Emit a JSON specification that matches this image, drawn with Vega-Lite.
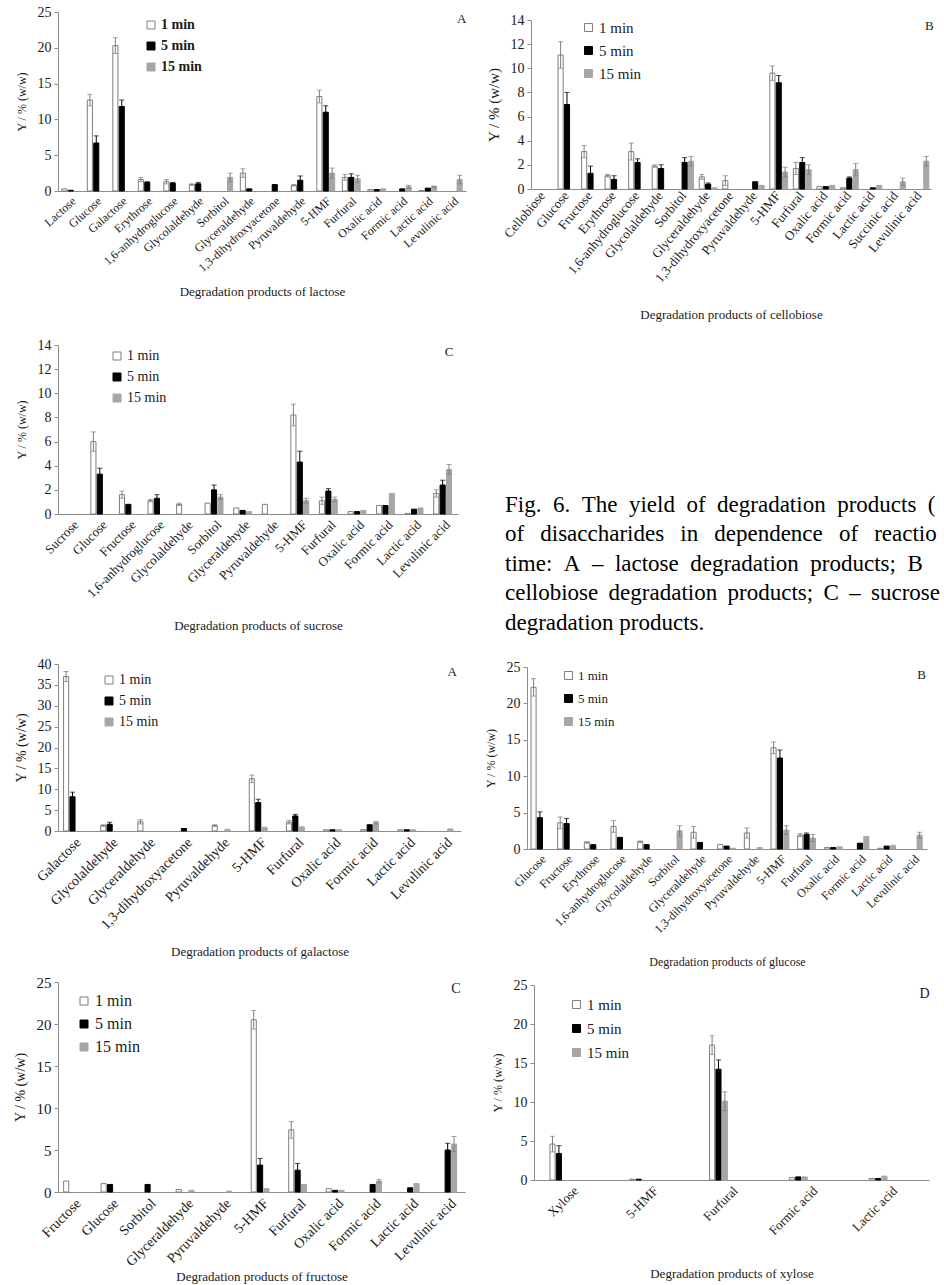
{
  "$schema": "https://vega.github.io/schema/vega-lite/v6.json",
  "padding": {"left": 13, "top": 5, "right": 0, "bottom": 0},
  "background": "white",
  "config": {
    "font": "Liberation Serif",
    "view": {"stroke": null},
    "axis": {
      "labelFont": "Liberation Serif", "titleFont": "Liberation Serif",
      "labelColor": "#1a1a1a", "titleColor": "#1a1a1a",
      "domainColor": "#8c8c8c", "tickColor": "#8c8c8c",
      "grid": false, "titleFontWeight": "normal", "labelFontWeight": "normal"
    },
    "axisX": {"ticks": false, "labelAngle": -45, "labelPadding": 4, "labelFontSize": 12, "titleFontSize": 13, "titlePadding": 10, "labelOverlap": false, "titleFontWeight": "normal"},
    "axisY": {"tickSize": 4, "labelPadding": 3, "labelFontSize": 14, "titleFontSize": 12, "titlePadding": 9, "labelOverlap": false, "titleFontWeight": "normal"},
    "legend": {"labelFont": "Liberation Serif", "labelColor": "#1a1a1a", "symbolType": "square", "symbolSize": 64, "symbolStrokeWidth": 1, "padding": 0, "labelOffset": 3},
    "title": {"font": "Liberation Serif", "fontWeight": "normal", "color": "#ffffff"},
    "text": {"font": "Liberation Serif", "color": "#1a1a1a"}
  },
  "datasets": {
    "yields": [
      {"p": "lactose", "c": "Lactose", "t": "1 min", "v": 0.3},
      {"p": "lactose", "c": "Lactose", "t": "5 min", "v": 0.1},
      {"p": "lactose", "c": "Glucose", "t": "1 min", "v": 12.7, "e": 0.8},
      {"p": "lactose", "c": "Glucose", "t": "5 min", "v": 6.7, "e": 1.0},
      {"p": "lactose", "c": "Galactose", "t": "1 min", "v": 20.3, "e": 1.1},
      {"p": "lactose", "c": "Galactose", "t": "5 min", "v": 11.8, "e": 0.9},
      {"p": "lactose", "c": "Erythrose", "t": "1 min", "v": 1.6, "e": 0.3},
      {"p": "lactose", "c": "Erythrose", "t": "5 min", "v": 1.2, "e": 0.1},
      {"p": "lactose", "c": "1,6-anhydroglucose", "t": "1 min", "v": 1.3, "e": 0.3},
      {"p": "lactose", "c": "1,6-anhydroglucose", "t": "5 min", "v": 1.1, "e": 0.1},
      {"p": "lactose", "c": "Glycolaldehyde", "t": "1 min", "v": 0.9, "e": 0.1},
      {"p": "lactose", "c": "Glycolaldehyde", "t": "5 min", "v": 1.0, "e": 0.2},
      {"p": "lactose", "c": "Sorbitol", "t": "15 min", "v": 1.9, "e": 0.6},
      {"p": "lactose", "c": "Glyceraldehyde", "t": "1 min", "v": 2.5, "e": 0.6},
      {"p": "lactose", "c": "Glyceraldehyde", "t": "5 min", "v": 0.3},
      {"p": "lactose", "c": "1,3-dihydroxyacetone", "t": "5 min", "v": 0.9},
      {"p": "lactose", "c": "Pyruvaldehyde", "t": "1 min", "v": 0.8, "e": 0.1},
      {"p": "lactose", "c": "Pyruvaldehyde", "t": "5 min", "v": 1.5, "e": 0.6},
      {"p": "lactose", "c": "5-HMF", "t": "1 min", "v": 13.2, "e": 0.9},
      {"p": "lactose", "c": "5-HMF", "t": "5 min", "v": 11.0, "e": 0.9},
      {"p": "lactose", "c": "5-HMF", "t": "15 min", "v": 2.5, "e": 0.7},
      {"p": "lactose", "c": "Furfural", "t": "1 min", "v": 1.9, "e": 0.4},
      {"p": "lactose", "c": "Furfural", "t": "5 min", "v": 1.9, "e": 0.5},
      {"p": "lactose", "c": "Furfural", "t": "15 min", "v": 1.7, "e": 0.5},
      {"p": "lactose", "c": "Oxalic acid", "t": "1 min", "v": 0.2},
      {"p": "lactose", "c": "Oxalic acid", "t": "5 min", "v": 0.2},
      {"p": "lactose", "c": "Oxalic acid", "t": "15 min", "v": 0.3},
      {"p": "lactose", "c": "Formic acid", "t": "5 min", "v": 0.3},
      {"p": "lactose", "c": "Formic acid", "t": "15 min", "v": 0.6, "e": 0.2},
      {"p": "lactose", "c": "Lactic acid", "t": "1 min", "v": 0.05},
      {"p": "lactose", "c": "Lactic acid", "t": "5 min", "v": 0.4},
      {"p": "lactose", "c": "Lactic acid", "t": "15 min", "v": 0.6, "e": 0.1},
      {"p": "lactose", "c": "Levulinic acid", "t": "15 min", "v": 1.6, "e": 0.6},

      {"p": "cellobiose", "c": "Glucose", "t": "1 min", "v": 11.1, "e": 1.1},
      {"p": "cellobiose", "c": "Glucose", "t": "5 min", "v": 7.0, "e": 1.0},
      {"p": "cellobiose", "c": "Fructose", "t": "1 min", "v": 3.1, "e": 0.5},
      {"p": "cellobiose", "c": "Fructose", "t": "5 min", "v": 1.3, "e": 0.6},
      {"p": "cellobiose", "c": "Erythrose", "t": "1 min", "v": 1.1, "e": 0.1},
      {"p": "cellobiose", "c": "Erythrose", "t": "5 min", "v": 0.8, "e": 0.3},
      {"p": "cellobiose", "c": "1,6-anhydroglucose", "t": "1 min", "v": 3.1, "e": 0.7},
      {"p": "cellobiose", "c": "1,6-anhydroglucose", "t": "5 min", "v": 2.2, "e": 0.3},
      {"p": "cellobiose", "c": "Glycolaldehyde", "t": "1 min", "v": 1.9, "e": 0.1},
      {"p": "cellobiose", "c": "Glycolaldehyde", "t": "5 min", "v": 1.7, "e": 0.3},
      {"p": "cellobiose", "c": "Sorbitol", "t": "5 min", "v": 2.2, "e": 0.4},
      {"p": "cellobiose", "c": "Sorbitol", "t": "15 min", "v": 2.3, "e": 0.4},
      {"p": "cellobiose", "c": "Glyceraldehyde", "t": "1 min", "v": 1.0, "e": 0.2},
      {"p": "cellobiose", "c": "Glyceraldehyde", "t": "5 min", "v": 0.4, "e": 0.1},
      {"p": "cellobiose", "c": "Glyceraldehyde", "t": "15 min", "v": 0.1},
      {"p": "cellobiose", "c": "1,3-dihydroxyacetone", "t": "1 min", "v": 0.7, "e": 0.4},
      {"p": "cellobiose", "c": "Pyruvaldehyde", "t": "5 min", "v": 0.6},
      {"p": "cellobiose", "c": "Pyruvaldehyde", "t": "15 min", "v": 0.3},
      {"p": "cellobiose", "c": "5-HMF", "t": "1 min", "v": 9.6, "e": 0.6},
      {"p": "cellobiose", "c": "5-HMF", "t": "5 min", "v": 8.8, "e": 0.6},
      {"p": "cellobiose", "c": "5-HMF", "t": "15 min", "v": 1.4, "e": 0.4},
      {"p": "cellobiose", "c": "Furfural", "t": "1 min", "v": 1.7, "e": 0.5},
      {"p": "cellobiose", "c": "Furfural", "t": "5 min", "v": 2.2, "e": 0.4},
      {"p": "cellobiose", "c": "Furfural", "t": "15 min", "v": 1.6, "e": 0.4},
      {"p": "cellobiose", "c": "Oxalic acid", "t": "1 min", "v": 0.2},
      {"p": "cellobiose", "c": "Oxalic acid", "t": "5 min", "v": 0.2},
      {"p": "cellobiose", "c": "Oxalic acid", "t": "15 min", "v": 0.3},
      {"p": "cellobiose", "c": "Formic acid", "t": "1 min", "v": 0.1},
      {"p": "cellobiose", "c": "Formic acid", "t": "5 min", "v": 0.9, "e": 0.1},
      {"p": "cellobiose", "c": "Formic acid", "t": "15 min", "v": 1.6, "e": 0.5},
      {"p": "cellobiose", "c": "Lactic acid", "t": "5 min", "v": 0.1},
      {"p": "cellobiose", "c": "Lactic acid", "t": "15 min", "v": 0.3},
      {"p": "cellobiose", "c": "Succinic acid", "t": "15 min", "v": 0.6, "e": 0.3},
      {"p": "cellobiose", "c": "Levulinic acid", "t": "15 min", "v": 2.3, "e": 0.4},

      {"p": "sucrose", "c": "Glucose", "t": "1 min", "v": 6.0, "e": 0.8},
      {"p": "sucrose", "c": "Glucose", "t": "5 min", "v": 3.3, "e": 0.5},
      {"p": "sucrose", "c": "Fructose", "t": "1 min", "v": 1.6, "e": 0.3},
      {"p": "sucrose", "c": "Fructose", "t": "5 min", "v": 0.8},
      {"p": "sucrose", "c": "1,6-anhydroglucose", "t": "1 min", "v": 1.1, "e": 0.1},
      {"p": "sucrose", "c": "1,6-anhydroglucose", "t": "5 min", "v": 1.3, "e": 0.3},
      {"p": "sucrose", "c": "Glycolaldehyde", "t": "1 min", "v": 0.8, "e": 0.1},
      {"p": "sucrose", "c": "Sorbitol", "t": "1 min", "v": 0.9},
      {"p": "sucrose", "c": "Sorbitol", "t": "5 min", "v": 2.0, "e": 0.4},
      {"p": "sucrose", "c": "Sorbitol", "t": "15 min", "v": 1.4, "e": 0.2},
      {"p": "sucrose", "c": "Glyceraldehyde", "t": "1 min", "v": 0.5},
      {"p": "sucrose", "c": "Glyceraldehyde", "t": "5 min", "v": 0.3},
      {"p": "sucrose", "c": "Glyceraldehyde", "t": "15 min", "v": 0.2},
      {"p": "sucrose", "c": "Pyruvaldehyde", "t": "1 min", "v": 0.8},
      {"p": "sucrose", "c": "5-HMF", "t": "1 min", "v": 8.2, "e": 0.9},
      {"p": "sucrose", "c": "5-HMF", "t": "5 min", "v": 4.3, "e": 0.9},
      {"p": "sucrose", "c": "5-HMF", "t": "15 min", "v": 1.1, "e": 0.2},
      {"p": "sucrose", "c": "Furfural", "t": "1 min", "v": 1.1, "e": 0.3},
      {"p": "sucrose", "c": "Furfural", "t": "5 min", "v": 1.9, "e": 0.2},
      {"p": "sucrose", "c": "Furfural", "t": "15 min", "v": 1.2, "e": 0.2},
      {"p": "sucrose", "c": "Oxalic acid", "t": "1 min", "v": 0.2},
      {"p": "sucrose", "c": "Oxalic acid", "t": "5 min", "v": 0.2},
      {"p": "sucrose", "c": "Oxalic acid", "t": "15 min", "v": 0.3},
      {"p": "sucrose", "c": "Formic acid", "t": "1 min", "v": 0.7},
      {"p": "sucrose", "c": "Formic acid", "t": "5 min", "v": 0.7},
      {"p": "sucrose", "c": "Formic acid", "t": "15 min", "v": 1.7},
      {"p": "sucrose", "c": "Lactic acid", "t": "1 min", "v": 0.05},
      {"p": "sucrose", "c": "Lactic acid", "t": "5 min", "v": 0.4},
      {"p": "sucrose", "c": "Lactic acid", "t": "15 min", "v": 0.5},
      {"p": "sucrose", "c": "Levulinic acid", "t": "1 min", "v": 1.7, "e": 0.3},
      {"p": "sucrose", "c": "Levulinic acid", "t": "5 min", "v": 2.4, "e": 0.4},
      {"p": "sucrose", "c": "Levulinic acid", "t": "15 min", "v": 3.7, "e": 0.4},

      {"p": "galactose", "c": "Galactose", "t": "1 min", "v": 37.0, "e": 1.2},
      {"p": "galactose", "c": "Galactose", "t": "5 min", "v": 8.2, "e": 1.1},
      {"p": "galactose", "c": "Glycolaldehyde", "t": "1 min", "v": 1.3, "e": 0.2},
      {"p": "galactose", "c": "Glycolaldehyde", "t": "5 min", "v": 1.6, "e": 0.5},
      {"p": "galactose", "c": "Glyceraldehyde", "t": "1 min", "v": 2.2, "e": 0.5},
      {"p": "galactose", "c": "1,3-dihydroxyacetone", "t": "5 min", "v": 0.6},
      {"p": "galactose", "c": "Pyruvaldehyde", "t": "1 min", "v": 1.3, "e": 0.2},
      {"p": "galactose", "c": "Pyruvaldehyde", "t": "15 min", "v": 0.4},
      {"p": "galactose", "c": "5-HMF", "t": "1 min", "v": 12.5, "e": 0.9},
      {"p": "galactose", "c": "5-HMF", "t": "5 min", "v": 6.8, "e": 0.8},
      {"p": "galactose", "c": "5-HMF", "t": "15 min", "v": 0.9},
      {"p": "galactose", "c": "Furfural", "t": "1 min", "v": 2.1, "e": 0.4},
      {"p": "galactose", "c": "Furfural", "t": "5 min", "v": 3.6, "e": 0.4},
      {"p": "galactose", "c": "Furfural", "t": "15 min", "v": 1.0},
      {"p": "galactose", "c": "Oxalic acid", "t": "1 min", "v": 0.3},
      {"p": "galactose", "c": "Oxalic acid", "t": "5 min", "v": 0.3},
      {"p": "galactose", "c": "Oxalic acid", "t": "15 min", "v": 0.3},
      {"p": "galactose", "c": "Formic acid", "t": "1 min", "v": 0.3},
      {"p": "galactose", "c": "Formic acid", "t": "5 min", "v": 1.5},
      {"p": "galactose", "c": "Formic acid", "t": "15 min", "v": 2.0, "e": 0.3},
      {"p": "galactose", "c": "Lactic acid", "t": "1 min", "v": 0.3},
      {"p": "galactose", "c": "Lactic acid", "t": "5 min", "v": 0.3},
      {"p": "galactose", "c": "Lactic acid", "t": "15 min", "v": 0.3},
      {"p": "galactose", "c": "Levulinic acid", "t": "15 min", "v": 0.5},

      {"p": "glucose", "c": "Glucose", "t": "1 min", "v": 22.2, "e": 1.2},
      {"p": "glucose", "c": "Glucose", "t": "5 min", "v": 4.3, "e": 0.8},
      {"p": "glucose", "c": "Fructose", "t": "1 min", "v": 3.6, "e": 0.8},
      {"p": "glucose", "c": "Fructose", "t": "5 min", "v": 3.5, "e": 0.7},
      {"p": "glucose", "c": "Erythrose", "t": "1 min", "v": 0.9, "e": 0.1},
      {"p": "glucose", "c": "Erythrose", "t": "5 min", "v": 0.6},
      {"p": "glucose", "c": "1,6-anhydroglucose", "t": "1 min", "v": 3.1, "e": 0.8},
      {"p": "glucose", "c": "1,6-anhydroglucose", "t": "5 min", "v": 1.6},
      {"p": "glucose", "c": "Glycolaldehyde", "t": "1 min", "v": 1.0, "e": 0.1},
      {"p": "glucose", "c": "Glycolaldehyde", "t": "5 min", "v": 0.6},
      {"p": "glucose", "c": "Sorbitol", "t": "15 min", "v": 2.5, "e": 0.7},
      {"p": "glucose", "c": "Glyceraldehyde", "t": "1 min", "v": 2.3, "e": 0.8},
      {"p": "glucose", "c": "Glyceraldehyde", "t": "5 min", "v": 0.9},
      {"p": "glucose", "c": "1,3-dihydroxyacetone", "t": "1 min", "v": 0.6},
      {"p": "glucose", "c": "1,3-dihydroxyacetone", "t": "5 min", "v": 0.4},
      {"p": "glucose", "c": "1,3-dihydroxyacetone", "t": "15 min", "v": 0.1},
      {"p": "glucose", "c": "Pyruvaldehyde", "t": "1 min", "v": 2.2, "e": 0.7},
      {"p": "glucose", "c": "Pyruvaldehyde", "t": "15 min", "v": 0.2},
      {"p": "glucose", "c": "5-HMF", "t": "1 min", "v": 13.9, "e": 0.8},
      {"p": "glucose", "c": "5-HMF", "t": "5 min", "v": 12.5, "e": 1.1},
      {"p": "glucose", "c": "5-HMF", "t": "15 min", "v": 2.6, "e": 0.6},
      {"p": "glucose", "c": "Furfural", "t": "1 min", "v": 1.9, "e": 0.2},
      {"p": "glucose", "c": "Furfural", "t": "5 min", "v": 2.0, "e": 0.2},
      {"p": "glucose", "c": "Furfural", "t": "15 min", "v": 1.5, "e": 0.5},
      {"p": "glucose", "c": "Oxalic acid", "t": "1 min", "v": 0.2},
      {"p": "glucose", "c": "Oxalic acid", "t": "5 min", "v": 0.2},
      {"p": "glucose", "c": "Oxalic acid", "t": "15 min", "v": 0.3},
      {"p": "glucose", "c": "Formic acid", "t": "5 min", "v": 0.8},
      {"p": "glucose", "c": "Formic acid", "t": "15 min", "v": 1.7},
      {"p": "glucose", "c": "Lactic acid", "t": "1 min", "v": 0.1},
      {"p": "glucose", "c": "Lactic acid", "t": "5 min", "v": 0.4},
      {"p": "glucose", "c": "Lactic acid", "t": "15 min", "v": 0.5},
      {"p": "glucose", "c": "Levulinic acid", "t": "15 min", "v": 1.9, "e": 0.4},

      {"p": "fructose", "c": "Fructose", "t": "1 min", "v": 1.3},
      {"p": "fructose", "c": "Glucose", "t": "1 min", "v": 1.0},
      {"p": "fructose", "c": "Glucose", "t": "5 min", "v": 0.9},
      {"p": "fructose", "c": "Sorbitol", "t": "5 min", "v": 0.9},
      {"p": "fructose", "c": "Glyceraldehyde", "t": "1 min", "v": 0.3},
      {"p": "fructose", "c": "Glyceraldehyde", "t": "15 min", "v": 0.2},
      {"p": "fructose", "c": "Pyruvaldehyde", "t": "15 min", "v": 0.1},
      {"p": "fructose", "c": "5-HMF", "t": "1 min", "v": 20.5, "e": 1.1},
      {"p": "fructose", "c": "5-HMF", "t": "5 min", "v": 3.2, "e": 0.8},
      {"p": "fructose", "c": "5-HMF", "t": "15 min", "v": 0.4},
      {"p": "fructose", "c": "Furfural", "t": "1 min", "v": 7.4, "e": 1.0},
      {"p": "fructose", "c": "Furfural", "t": "5 min", "v": 2.6, "e": 0.8},
      {"p": "fructose", "c": "Furfural", "t": "15 min", "v": 0.9},
      {"p": "fructose", "c": "Oxalic acid", "t": "1 min", "v": 0.4},
      {"p": "fructose", "c": "Oxalic acid", "t": "5 min", "v": 0.2},
      {"p": "fructose", "c": "Oxalic acid", "t": "15 min", "v": 0.2},
      {"p": "fructose", "c": "Formic acid", "t": "5 min", "v": 0.9},
      {"p": "fructose", "c": "Formic acid", "t": "15 min", "v": 1.3, "e": 0.2},
      {"p": "fructose", "c": "Lactic acid", "t": "5 min", "v": 0.5},
      {"p": "fructose", "c": "Lactic acid", "t": "15 min", "v": 1.0},
      {"p": "fructose", "c": "Levulinic acid", "t": "5 min", "v": 5.0, "e": 0.8},
      {"p": "fructose", "c": "Levulinic acid", "t": "15 min", "v": 5.7, "e": 0.9},

      {"p": "xylose", "c": "Xylose", "t": "1 min", "v": 4.6, "e": 1.0},
      {"p": "xylose", "c": "Xylose", "t": "5 min", "v": 3.4, "e": 1.0},
      {"p": "xylose", "c": "5-HMF", "t": "1 min", "v": 0.1},
      {"p": "xylose", "c": "5-HMF", "t": "5 min", "v": 0.1},
      {"p": "xylose", "c": "Furfural", "t": "1 min", "v": 17.3, "e": 1.2},
      {"p": "xylose", "c": "Furfural", "t": "5 min", "v": 14.2, "e": 1.2},
      {"p": "xylose", "c": "Furfural", "t": "15 min", "v": 10.1, "e": 1.2},
      {"p": "xylose", "c": "Formic acid", "t": "1 min", "v": 0.3},
      {"p": "xylose", "c": "Formic acid", "t": "5 min", "v": 0.4},
      {"p": "xylose", "c": "Formic acid", "t": "15 min", "v": 0.4},
      {"p": "xylose", "c": "Lactic acid", "t": "1 min", "v": 0.2},
      {"p": "xylose", "c": "Lactic acid", "t": "5 min", "v": 0.2},
      {"p": "xylose", "c": "Lactic acid", "t": "15 min", "v": 0.5}
    ],
    "caption": [
      {"line": 1, "txt": "Fig.\u00a0\u00a06.\u00a0\u00a0The\u00a0\u00a0yield\u00a0\u00a0of\u00a0\u00a0degradation\u00a0\u00a0products\u00a0\u00a0(X)"},
      {"line": 2, "txt": "of\u00a0\u00a0\u2009disaccharides\u00a0\u00a0\u2009in\u00a0\u00a0\u2009dependence\u00a0\u00a0\u2009of\u00a0\u00a0\u2009reaction"},
      {"line": 3, "txt": "time:\u00a0\u00a0A\u00a0\u00a0–\u00a0\u00a0lactose\u00a0\u00a0degradation\u00a0\u00a0products;\u00a0\u00a0B\u00a0\u00a0–"},
      {"line": 4, "txt": "cellobiose\u00a0\u2009degradation\u00a0\u2009products;\u00a0\u2009C\u00a0\u2009–\u00a0\u2009sucrose"},
      {"line": 5, "txt": "degradation products."}
    ]
  },
  "resolve": {"scale": {"fill": "independent", "stroke": "independent"}, "legend": {"fill": "independent", "stroke": "independent"}},
  "spacing": 7,
  "vconcat": [
    {
      "spacing": 19,
      "resolve": {"scale": {"fill": "independent", "stroke": "independent"}, "legend": {"fill": "independent", "stroke": "independent"}},
      "hconcat": [
        {
          "width": 408, "height": 179,
          "encoding": {
            "x": {"field": "c", "type": "nominal", "title": "Degradation products of lactose",
              "scale": {"domain": ["Lactose", "Glucose", "Galactose", "Erythrose", "1,6-anhydroglucose", "Glycolaldehyde", "Sorbitol", "Glyceraldehyde", "1,3-dihydroxyacetone", "Pyruvaldehyde", "5-HMF", "Furfural", "Oxalic acid", "Formic acid", "Lactic acid", "Levulinic acid"], "paddingInner": 0.3, "paddingOuter": 0.15},
              "axis": {"labelAngle": -42, "titlePadding": 12}},
            "xOffset": {"field": "t", "type": "nominal", "scale": {"domain": ["1 min", "5 min", "15 min"]}}
          },
          "layer": [
            {
              "data": {"name": "yields"},
              "transform": [{"filter": "datum.p === 'lactose'"}],
              "mark": {"type": "bar", "strokeWidth": 1},
              "encoding": {
                "y": {"field": "v", "type": "quantitative", "stack": null, "title": "Y / % (w/w)", "scale": {"domain": [0, 25], "nice": false}, "axis": {"values": [0, 5, 10, 15, 20, 25]}},
                "fill": {"field": "t", "type": "nominal", "scale": {"domain": ["1 min", "5 min", "15 min"], "range": ["#ffffff", "#000000", "#a6a6a6"]}, "legend": {"title": null, "orient": "none", "legendX": 86, "legendY": 6, "labelFontSize": 14, "labelFontWeight": "bold", "rowPadding": 7}},
                "stroke": {"field": "t", "type": "nominal", "scale": {"domain": ["1 min", "5 min", "15 min"], "range": ["#7f7f7f", "#000000", "#a6a6a6"]}, "legend": {"title": null, "orient": "none", "legendX": 86, "legendY": 6, "labelFontSize": 14, "labelFontWeight": "bold", "rowPadding": 7}}
              }
            },
            {
              "data": {"name": "yields"},
              "transform": [{"filter": "datum.p === 'lactose' && datum.e > 0 && datum.t !== '5 min'"}],
              "mark": {"type": "errorbar", "ticks": true, "color": "#7f7f7f"},
              "encoding": {"y": {"field": "v", "type": "quantitative", "title": "Y / % (w/w)", "axis": {"values": [0, 5, 10, 15, 20, 25]}}, "yError": {"field": "e"}}
            },
            {
              "data": {"name": "yields"},
              "transform": [{"filter": "datum.p === 'lactose' && datum.e > 0 && datum.t === '5 min'"}],
              "mark": {"type": "errorbar", "ticks": true, "color": "#000000"},
              "encoding": {"y": {"field": "v", "type": "quantitative", "title": "Y / % (w/w)", "axis": {"values": [0, 5, 10, 15, 20, 25]}}, "yError": {"field": "e"}}
            },
            {
              "data": {"values": [{"lab": "A"}]},
              "mark": {"type": "text", "baseline": "top", "fontSize": 13, "dx": 2, "dy": 1},
              "encoding": {"x": {"datum": "Levulinic acid"}, "xOffset": {"datum": "15 min"}, "y": {"datum": 25, "type": "quantitative", "title": "Y / % (w/w)", "axis": {"values": [0, 5, 10, 15, 20, 25]}}, "text": {"field": "lab"}}
            }
          ]
        },
        {
          "width": 400, "height": 177,
          "encoding": {
            "x": {"field": "c", "type": "nominal", "title": "Degradation products of cellobiose",
              "scale": {"domain": ["Cellobiose", "Glucose", "Fructose", "Erythrose", "1,6-anhydroglucose", "Glycolaldehyde", "Sorbitol", "Glyceraldehyde", "1,3-dihydroxyacetone", "Pyruvaldehyde", "5-HMF", "Furfural", "Oxalic acid", "Formic acid", "Lactic acid", "Succinic acid", "Levulinic acid"], "paddingInner": 0.3, "paddingOuter": 0.15},
              "axis": {"labelAngle": -50, "labelFontSize": 13, "titlePadding": 24}},
            "xOffset": {"field": "t", "type": "nominal", "scale": {"domain": ["1 min", "5 min", "15 min"]}}
          },
          "layer": [
            {
              "data": {"name": "yields"},
              "transform": [{"filter": "datum.p === 'cellobiose'"}],
              "mark": {"type": "bar", "strokeWidth": 1},
              "encoding": {
                "y": {"field": "v", "type": "quantitative", "stack": null, "title": "Y / % (w/w)", "scale": {"domain": [0, 14], "nice": false, "range": [177, 8]}, "axis": {"values": [0, 2, 4, 6, 8, 10, 12, 14], "titleFontSize": 15}},
                "fill": {"field": "t", "type": "nominal", "scale": {"domain": ["1 min", "5 min", "15 min"], "range": ["#ffffff", "#000000", "#a6a6a6"]}, "legend": {"title": null, "orient": "none", "legendX": 50, "legendY": 8, "labelFontSize": 15, "rowPadding": 7}},
                "stroke": {"field": "t", "type": "nominal", "scale": {"domain": ["1 min", "5 min", "15 min"], "range": ["#7f7f7f", "#000000", "#a6a6a6"]}, "legend": {"title": null, "orient": "none", "legendX": 50, "legendY": 8, "labelFontSize": 15, "rowPadding": 7}}
              }
            },
            {
              "data": {"name": "yields"},
              "transform": [{"filter": "datum.p === 'cellobiose' && datum.e > 0 && datum.t !== '5 min'"}],
              "mark": {"type": "errorbar", "ticks": true, "color": "#7f7f7f"},
              "encoding": {"y": {"field": "v", "type": "quantitative", "title": "Y / % (w/w)", "axis": {"values": [0, 2, 4, 6, 8, 10, 12, 14], "titleFontSize": 15}}, "yError": {"field": "e"}}
            },
            {
              "data": {"name": "yields"},
              "transform": [{"filter": "datum.p === 'cellobiose' && datum.e > 0 && datum.t === '5 min'"}],
              "mark": {"type": "errorbar", "ticks": true, "color": "#000000"},
              "encoding": {"y": {"field": "v", "type": "quantitative", "title": "Y / % (w/w)", "axis": {"values": [0, 2, 4, 6, 8, 10, 12, 14], "titleFontSize": 15}}, "yError": {"field": "e"}}
            },
            {
              "data": {"values": [{"lab": "B"}]},
              "mark": {"type": "text", "baseline": "top", "fontSize": 13, "dx": 3, "dy": 0},
              "encoding": {"x": {"datum": "Levulinic acid"}, "xOffset": {"datum": "15 min"}, "y": {"datum": 14, "type": "quantitative", "title": "Y / % (w/w)", "axis": {"values": [0, 2, 4, 6, 8, 10, 12, 14], "titleFontSize": 15}}, "text": {"field": "lab"}}
            }
          ]
        }
      ]
    },
    {
      "spacing": 47,
      "resolve": {"scale": {"fill": "independent", "stroke": "independent"}, "legend": {"fill": "independent", "stroke": "independent"}},
      "hconcat": [
        {
          "width": 400, "height": 169,
          "title": {"text": " ", "fontSize": 9, "offset": 0},
          "encoding": {
            "x": {"field": "c", "type": "nominal", "title": "Degradation products of sucrose",
              "scale": {"domain": ["Sucrose", "Glucose", "Fructose", "1,6-anhydroglucose", "Glycolaldehyde", "Sorbitol", "Glyceraldehyde", "Pyruvaldehyde", "5-HMF", "Furfural", "Oxalic acid", "Formic acid", "Lactic acid", "Levulinic acid"], "paddingInner": 0.3, "paddingOuter": 0.15},
              "axis": {"labelFontSize": 13, "titlePadding": 20}},
            "xOffset": {"field": "t", "type": "nominal", "scale": {"domain": ["1 min", "5 min", "15 min"]}}
          },
          "layer": [
            {
              "data": {"name": "yields"},
              "transform": [{"filter": "datum.p === 'sucrose'"}],
              "mark": {"type": "bar", "strokeWidth": 1},
              "encoding": {
                "y": {"field": "v", "type": "quantitative", "stack": null, "title": "Y / % (w/w)", "scale": {"domain": [0, 14], "nice": false}, "axis": {"values": [0, 2, 4, 6, 8, 10, 12, 14]}},
                "fill": {"field": "t", "type": "nominal", "scale": {"domain": ["1 min", "5 min", "15 min"], "range": ["#ffffff", "#000000", "#a6a6a6"]}, "legend": {"title": null, "orient": "none", "legendX": 52, "legendY": 4, "labelFontSize": 14, "rowPadding": 7}},
                "stroke": {"field": "t", "type": "nominal", "scale": {"domain": ["1 min", "5 min", "15 min"], "range": ["#7f7f7f", "#000000", "#a6a6a6"]}, "legend": {"title": null, "orient": "none", "legendX": 52, "legendY": 4, "labelFontSize": 14, "rowPadding": 7}}
              }
            },
            {
              "data": {"name": "yields"},
              "transform": [{"filter": "datum.p === 'sucrose' && datum.e > 0 && datum.t !== '5 min'"}],
              "mark": {"type": "errorbar", "ticks": true, "color": "#7f7f7f"},
              "encoding": {"y": {"field": "v", "type": "quantitative", "title": "Y / % (w/w)", "axis": {"values": [0, 2, 4, 6, 8, 10, 12, 14]}}, "yError": {"field": "e"}}
            },
            {
              "data": {"name": "yields"},
              "transform": [{"filter": "datum.p === 'sucrose' && datum.e > 0 && datum.t === '5 min'"}],
              "mark": {"type": "errorbar", "ticks": true, "color": "#000000"},
              "encoding": {"y": {"field": "v", "type": "quantitative", "title": "Y / % (w/w)", "axis": {"values": [0, 2, 4, 6, 8, 10, 12, 14]}}, "yError": {"field": "e"}}
            },
            {
              "data": {"values": [{"lab": "C"}]},
              "mark": {"type": "text", "baseline": "top", "fontSize": 13, "dx": 0, "dy": 1},
              "encoding": {"x": {"datum": "Levulinic acid"}, "xOffset": {"datum": "15 min"}, "y": {"datum": 14, "type": "quantitative", "title": "Y / % (w/w)", "axis": {"values": [0, 2, 4, 6, 8, 10, 12, 14]}}, "text": {"field": "lab"}}
            }
          ]
        },
        {
          "width": 439, "height": 305,
          "data": {"name": "caption"},
          "mark": {"type": "text", "align": "left", "baseline": "alphabetic", "fontSize": 23, "color": "#000000", "limit": 439, "ellipsis": "\u200a"},
          "encoding": {
            "x": {"datum": 0, "type": "quantitative", "scale": {"domain": [0, 1]}, "axis": null},
            "y": {"field": "line", "type": "quantitative", "scale": {"domain": [-4.66, 5.68], "reverse": true, "nice": false, "zero": false}, "axis": null},
            "text": {"field": "txt"}
          }
        }
      ]
    },
    {
      "spacing": 23,
      "resolve": {"scale": {"fill": "independent", "stroke": "independent"}, "legend": {"fill": "independent", "stroke": "independent"}},
      "hconcat": [
        {
          "width": 403, "height": 167,
          "encoding": {
            "x": {"field": "c", "type": "nominal", "title": "Degradation products of galactose",
              "scale": {"domain": ["Galactose", "Glycolaldehyde", "Glyceraldehyde", "1,3-dihydroxyacetone", "Pyruvaldehyde", "5-HMF", "Furfural", "Oxalic acid", "Formic acid", "Lactic acid", "Levulinic acid"], "paddingInner": 0.45, "paddingOuter": 0.15},
              "axis": {"labelFontSize": 14, "titlePadding": 14}},
            "xOffset": {"field": "t", "type": "nominal", "scale": {"domain": ["1 min", "5 min", "15 min"]}}
          },
          "layer": [
            {
              "data": {"name": "yields"},
              "transform": [{"filter": "datum.p === 'galactose'"}],
              "mark": {"type": "bar", "strokeWidth": 1},
              "encoding": {
                "y": {"field": "v", "type": "quantitative", "stack": null, "title": "Y / % (w/w)", "scale": {"domain": [0, 40], "nice": false}, "axis": {"values": [0, 5, 10, 15, 20, 25, 30, 35, 40], "titleFontSize": 14}},
                "fill": {"field": "t", "type": "nominal", "scale": {"domain": ["1 min", "5 min", "15 min"], "range": ["#ffffff", "#000000", "#a6a6a6"]}, "legend": {"title": null, "orient": "none", "legendX": 44, "legendY": 9, "labelFontSize": 14, "rowPadding": 7}},
                "stroke": {"field": "t", "type": "nominal", "scale": {"domain": ["1 min", "5 min", "15 min"], "range": ["#7f7f7f", "#000000", "#a6a6a6"]}, "legend": {"title": null, "orient": "none", "legendX": 44, "legendY": 9, "labelFontSize": 14, "rowPadding": 7}}
              }
            },
            {
              "data": {"name": "yields"},
              "transform": [{"filter": "datum.p === 'galactose' && datum.e > 0 && datum.t !== '5 min'"}],
              "mark": {"type": "errorbar", "ticks": true, "color": "#7f7f7f"},
              "encoding": {"y": {"field": "v", "type": "quantitative", "title": "Y / % (w/w)", "axis": {"values": [0, 5, 10, 15, 20, 25, 30, 35, 40], "titleFontSize": 14}}, "yError": {"field": "e"}}
            },
            {
              "data": {"name": "yields"},
              "transform": [{"filter": "datum.p === 'galactose' && datum.e > 0 && datum.t === '5 min'"}],
              "mark": {"type": "errorbar", "ticks": true, "color": "#000000"},
              "encoding": {"y": {"field": "v", "type": "quantitative", "title": "Y / % (w/w)", "axis": {"values": [0, 5, 10, 15, 20, 25, 30, 35, 40], "titleFontSize": 14}}, "yError": {"field": "e"}}
            },
            {
              "data": {"values": [{"lab": "A"}]},
              "mark": {"type": "text", "baseline": "top", "fontSize": 13, "dx": 2, "dy": 2},
              "encoding": {"x": {"datum": "Levulinic acid"}, "xOffset": {"datum": "15 min"}, "y": {"datum": 40, "type": "quantitative", "title": "Y / % (w/w)", "axis": {"values": [0, 5, 10, 15, 20, 25, 30, 35, 40], "titleFontSize": 14}}, "text": {"field": "lab"}}
            }
          ]
        },
        {
          "width": 400, "height": 185,
          "encoding": {
            "x": {"field": "c", "type": "nominal", "title": "Degradation products of glucose",
              "scale": {"domain": ["Glucose", "Fructose", "Erythrose", "1,6-anhydroglucose", "Glycolaldehyde", "Sorbitol", "Glyceraldehyde", "1,3-dihydroxyacetone", "Pyruvaldehyde", "5-HMF", "Furfural", "Oxalic acid", "Formic acid", "Lactic acid", "Levulinic acid"], "paddingInner": 0.3, "paddingOuter": 0.15},
              "axis": {"titleFontSize": 12, "titlePadding": 22}},
            "xOffset": {"field": "t", "type": "nominal", "scale": {"domain": ["1 min", "5 min", "15 min"]}}
          },
          "layer": [
            {
              "data": {"name": "yields"},
              "transform": [{"filter": "datum.p === 'glucose'"}],
              "mark": {"type": "bar", "strokeWidth": 1},
              "encoding": {
                "y": {"field": "v", "type": "quantitative", "stack": null, "title": "Y / % (w/w)", "scale": {"domain": [0, 25], "nice": false, "range": [185, 3]}, "axis": {"values": [0, 5, 10, 15, 20, 25]}},
                "fill": {"field": "t", "type": "nominal", "scale": {"domain": ["1 min", "5 min", "15 min"], "range": ["#ffffff", "#000000", "#a6a6a6"]}, "legend": {"title": null, "orient": "none", "legendX": 35, "legendY": 5, "labelFontSize": 13, "rowPadding": 9}},
                "stroke": {"field": "t", "type": "nominal", "scale": {"domain": ["1 min", "5 min", "15 min"], "range": ["#7f7f7f", "#000000", "#a6a6a6"]}, "legend": {"title": null, "orient": "none", "legendX": 35, "legendY": 5, "labelFontSize": 13, "rowPadding": 9}}
              }
            },
            {
              "data": {"name": "yields"},
              "transform": [{"filter": "datum.p === 'glucose' && datum.e > 0 && datum.t !== '5 min'"}],
              "mark": {"type": "errorbar", "ticks": true, "color": "#7f7f7f"},
              "encoding": {"y": {"field": "v", "type": "quantitative", "title": "Y / % (w/w)", "axis": {"values": [0, 5, 10, 15, 20, 25]}}, "yError": {"field": "e"}}
            },
            {
              "data": {"name": "yields"},
              "transform": [{"filter": "datum.p === 'glucose' && datum.e > 0 && datum.t === '5 min'"}],
              "mark": {"type": "errorbar", "ticks": true, "color": "#000000"},
              "encoding": {"y": {"field": "v", "type": "quantitative", "title": "Y / % (w/w)", "axis": {"values": [0, 5, 10, 15, 20, 25]}}, "yError": {"field": "e"}}
            },
            {
              "data": {"values": [{"lab": "B"}]},
              "mark": {"type": "text", "baseline": "top", "fontSize": 13, "dx": 2, "dy": 2},
              "encoding": {"x": {"datum": "Levulinic acid"}, "xOffset": {"datum": "15 min"}, "y": {"datum": 25, "type": "quantitative", "title": "Y / % (w/w)", "axis": {"values": [0, 5, 10, 15, 20, 25]}}, "text": {"field": "lab"}}
            }
          ]
        }
      ]
    },
    {
      "spacing": 26,
      "resolve": {"scale": {"fill": "independent", "stroke": "independent"}, "legend": {"fill": "independent", "stroke": "independent"}},
      "hconcat": [
        {
          "width": 407, "height": 210,
          "encoding": {
            "x": {"field": "c", "type": "nominal", "title": "Degradation products of fructose",
              "scale": {"domain": ["Fructose", "Glucose", "Sorbitol", "Glyceraldehyde", "Pyruvaldehyde", "5-HMF", "Furfural", "Oxalic acid", "Formic acid", "Lactic acid", "Levulinic acid"], "paddingInner": 0.45, "paddingOuter": 0.15},
              "axis": {"labelFontSize": 14, "titlePadding": 2}},
            "xOffset": {"field": "t", "type": "nominal", "scale": {"domain": ["1 min", "5 min", "15 min"]}}
          },
          "layer": [
            {
              "data": {"name": "yields"},
              "transform": [{"filter": "datum.p === 'fructose'"}],
              "mark": {"type": "bar", "strokeWidth": 1},
              "encoding": {
                "y": {"field": "v", "type": "quantitative", "stack": null, "title": "Y / % (w/w)", "scale": {"domain": [0, 25], "nice": false}, "axis": {"values": [0, 5, 10, 15, 20, 25], "labelFontSize": 15, "titleFontSize": 14}},
                "fill": {"field": "t", "type": "nominal", "scale": {"domain": ["1 min", "5 min", "15 min"], "range": ["#ffffff", "#000000", "#a6a6a6"]}, "legend": {"title": null, "orient": "none", "legendX": 18, "legendY": 11, "labelFontSize": 16, "rowPadding": 7}},
                "stroke": {"field": "t", "type": "nominal", "scale": {"domain": ["1 min", "5 min", "15 min"], "range": ["#7f7f7f", "#000000", "#a6a6a6"]}, "legend": {"title": null, "orient": "none", "legendX": 18, "legendY": 11, "labelFontSize": 16, "rowPadding": 7}}
              }
            },
            {
              "data": {"name": "yields"},
              "transform": [{"filter": "datum.p === 'fructose' && datum.e > 0 && datum.t !== '5 min'"}],
              "mark": {"type": "errorbar", "ticks": true, "color": "#7f7f7f"},
              "encoding": {"y": {"field": "v", "type": "quantitative", "title": "Y / % (w/w)", "axis": {"values": [0, 5, 10, 15, 20, 25], "labelFontSize": 15, "titleFontSize": 14}}, "yError": {"field": "e"}}
            },
            {
              "data": {"name": "yields"},
              "transform": [{"filter": "datum.p === 'fructose' && datum.e > 0 && datum.t === '5 min'"}],
              "mark": {"type": "errorbar", "ticks": true, "color": "#000000"},
              "encoding": {"y": {"field": "v", "type": "quantitative", "title": "Y / % (w/w)", "axis": {"values": [0, 5, 10, 15, 20, 25], "labelFontSize": 15, "titleFontSize": 14}}, "yError": {"field": "e"}}
            },
            {
              "data": {"values": [{"lab": "C"}]},
              "mark": {"type": "text", "baseline": "top", "fontSize": 14, "dx": 2, "dy": 0},
              "encoding": {"x": {"datum": "Levulinic acid"}, "xOffset": {"datum": "15 min"}, "y": {"datum": 25, "type": "quantitative", "title": "Y / % (w/w)", "axis": {"values": [0, 5, 10, 15, 20, 25], "labelFontSize": 15, "titleFontSize": 14}}, "text": {"field": "lab"}}
            }
          ]
        },
        {
          "width": 395, "height": 198,
          "encoding": {
            "x": {"field": "c", "type": "nominal", "title": "Degradation products of xylose",
              "scale": {"domain": ["Xylose", "5-HMF", "Furfural", "Formic acid", "Lactic acid"], "paddingInner": 0.45, "paddingOuter": 0.2},
              "axis": {"labelFontSize": 13, "titlePadding": 30}},
            "xOffset": {"field": "t", "type": "nominal", "scale": {"domain": ["1 min", "5 min", "15 min"], "paddingInner": 0.2}}
          },
          "layer": [
            {
              "data": {"name": "yields"},
              "transform": [{"filter": "datum.p === 'xylose'"}],
              "mark": {"type": "bar", "strokeWidth": 1},
              "encoding": {
                "y": {"field": "v", "type": "quantitative", "stack": null, "title": "Y / % (w/w)", "scale": {"domain": [0, 25], "nice": false, "range": [198, 3]}, "axis": {"values": [0, 5, 10, 15, 20, 25]}},
                "fill": {"field": "t", "type": "nominal", "scale": {"domain": ["1 min", "5 min", "15 min"], "range": ["#ffffff", "#000000", "#a6a6a6"]}, "legend": {"title": null, "orient": "none", "legendX": 35, "legendY": 15, "labelFontSize": 15, "rowPadding": 8}},
                "stroke": {"field": "t", "type": "nominal", "scale": {"domain": ["1 min", "5 min", "15 min"], "range": ["#7f7f7f", "#000000", "#a6a6a6"]}, "legend": {"title": null, "orient": "none", "legendX": 35, "legendY": 15, "labelFontSize": 15, "rowPadding": 8}}
              }
            },
            {
              "data": {"name": "yields"},
              "transform": [{"filter": "datum.p === 'xylose' && datum.e > 0 && datum.t !== '5 min'"}],
              "mark": {"type": "errorbar", "ticks": true, "color": "#7f7f7f"},
              "encoding": {"y": {"field": "v", "type": "quantitative", "title": "Y / % (w/w)", "axis": {"values": [0, 5, 10, 15, 20, 25]}}, "yError": {"field": "e"}}
            },
            {
              "data": {"name": "yields"},
              "transform": [{"filter": "datum.p === 'xylose' && datum.e > 0 && datum.t === '5 min'"}],
              "mark": {"type": "errorbar", "ticks": true, "color": "#000000"},
              "encoding": {"y": {"field": "v", "type": "quantitative", "title": "Y / % (w/w)", "axis": {"values": [0, 5, 10, 15, 20, 25]}}, "yError": {"field": "e"}}
            },
            {
              "data": {"values": [{"lab": "D"}]},
              "mark": {"type": "text", "baseline": "top", "fontSize": 14, "dx": 40, "dy": 2},
              "encoding": {"x": {"datum": "Lactic acid"}, "xOffset": {"datum": "15 min"}, "y": {"datum": 25, "type": "quantitative", "title": "Y / % (w/w)", "axis": {"values": [0, 5, 10, 15, 20, 25]}}, "text": {"field": "lab"}}
            }
          ]
        }
      ]
    }
  ]
}
